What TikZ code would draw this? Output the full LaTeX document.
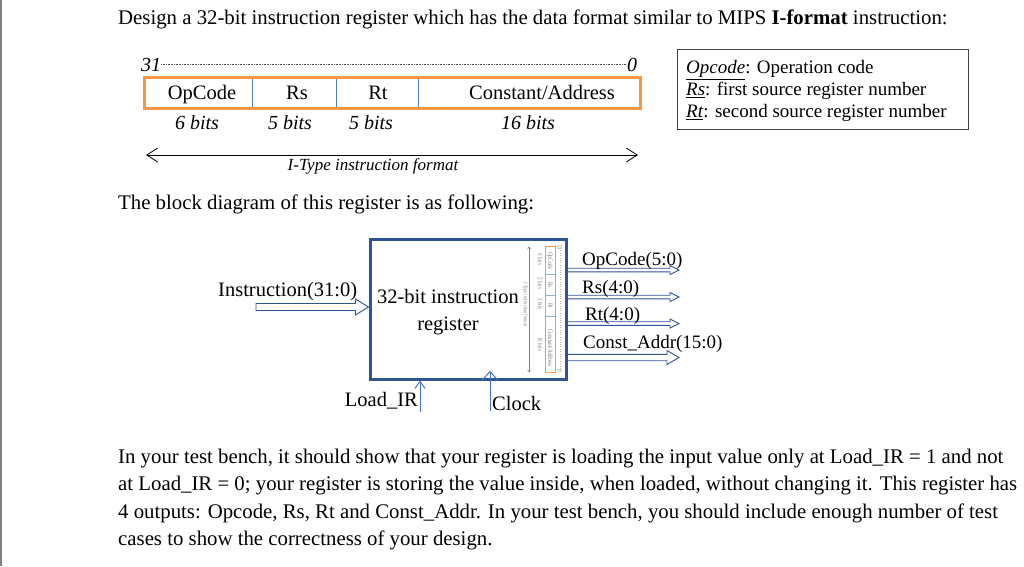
\documentclass[tikz,border=0pt]{standalone}
\usepackage{fontspec}
\setmainfont{Liberation Serif}
\usepackage{tikz}
\usetikzlibrary{arrows.meta,positioning,calc}

\definecolor{fmtorange}{HTML}{F79646}
\definecolor{fmtblue}{HTML}{4F81BD}
\definecolor{regblue}{HTML}{2F5496}
\definecolor{sigblue}{HTML}{4472C4}
\definecolor{keygray}{HTML}{404040}

% hollow bus arrow: from, to, half shaft, half head, head length
\newcommand{\busarrow}[5]{%
  \draw[bus] let \p1=(#1), \p2=(#2) in
    (\x1,\y1-#3pt) -- (\x2-#5pt,\y1-#3pt) -- (\x2-#5pt,\y1-#4pt) -- (\x2,\y1)
    -- (\x2-#5pt,\y1+#4pt) -- (\x2-#5pt,\y1+#3pt) -- (\x1,\y1+#3pt) -- cycle;}

\tikzset{
  fmtrect/.style={draw=fmtorange, line width=3pt},
  fmtdiv/.style={draw=fmtblue, line width=1pt},
  fmtdots/.style={draw=black!70, line width=0.7pt, dash pattern=on 0.7pt off 0.9pt},
  fmtarrow/.style={draw=black, line width=0.8pt,
    {Straight Barb[length=11pt,width=14pt]}-{Straight Barb[length=11pt,width=14pt]}},
  fmtfield/.style={font=\fontsize{20.5}{24}\selectfont, anchor=base},
  fmtbits/.style={font=\fontsize{20}{24}\selectfont\itshape, anchor=base},
  fmtnote/.style={font=\fontsize{17}{20}\selectfont\itshape, anchor=base},
  pics/iformat/.style={code={
    \node[fmtbits] (-hi) at (7,7) {31};
    \node[fmtbits] (-lo) at (488,7) {0};
    \draw[fmtdots] (-hi.east |- 0,0) -- (-lo.west |- 0,0);
    \foreach \d in {108.5,192,274.6}
      \draw[fmtdiv] (\d,13) -- (\d,44);
    \draw[fmtrect] (0,13) rectangle (496,44);
    \node[fmtfield] (-op) at (58,35.3) {OpCode};
    \node[fmtfield] (-rs) at (153,35.3) {Rs};
    \node[fmtfield] (-rt) at (234,35.3) {Rt};
    \node[fmtfield] (-ca) at (398,35.3) {Constant/Address};
    \node[fmtbits] (-opw) at (53,65) {6 bits};
    \node[fmtbits] (-rsw) at (146,65) {5 bits};
    \node[fmtbits] (-rtw) at (227,65) {5 bits};
    \node[fmtbits] (-caw) at (384,65) {16 bits};
    \coordinate (-l) at (2,91);
    \coordinate (-r) at (494,91);
    \draw[fmtarrow] (-l) -- (-r);
    \node[fmtnote] (-cap) at (229,106) {I-Type instruction format};
  }}
}

\begin{document}
\begin{tikzpicture}[x=1pt, y=-1pt,
    every node/.style={inner sep=0pt},
    body/.style={font=\fontsize{20.8}{27.5}\selectfont, anchor=base west, align=left},
    lbl/.style={font=\fontsize{20.5}{27}\selectfont},
    outlbl/.style={font=\fontsize{19}{22}\selectfont, anchor=base west},
    keytxt/.style={font=\fontsize{19}{21.8}\selectfont, align=left, anchor=west},
    reg/.style={draw=regblue, line width=3pt, minimum width=196, minimum height=140},
    bus/.style={draw=regblue, line width=0.9pt, fill=white},
    sig/.style={draw=sigblue, line width=1pt},
]
\useasboundingbox (0,0) rectangle (1024,566);
\fill[gray] (0,0) rectangle (2,566);

% text above and below
\node[body] (title) at (118,24)
  {Design a 32-bit instruction register which has the data format similar to MIPS \textbf{I-format} instruction:};
\node[body] (intro) at (118,209) {The block diagram of this register is as following:};
\node[body] (bench) at (118,545.5)
  {In your test bench, it should show that your register is loading the input value only at Load\_IR = 1 and not\\
   at Load\_IR = 0; your register is storing the value inside, when loaded, without changing it. This register has\\
   4 outputs: Opcode, Rs, Rt and Const\_Addr. In your test bench, you should include enough number of test\\
   cases to show the correctness of your design.};

% instruction format
\pic (fmt) at (144,64) {iformat};

\node[draw=keygray, line width=1.3pt, anchor=north west, minimum width=291,
      minimum height=80] (key) at (677,49) {};
\node[keytxt] (keylist) at ([xshift=9pt, yshift=-1.5pt]key.west)
  {\underline{\textit{Opcode}}: Operation code\\
   \underline{\textit{Rs}}: first source register number\\
   \underline{\textit{Rt}}: second source register number};

% register block
\node[reg] (reg) at (468,309) {};
\node[lbl, align=center] (regtxt) at (448,312) {32-bit instruction\\register};
\pic[rotate=-90, xscale=0.256, yscale=0.34, transform shape,
     fmtrect/.style={draw=fmtorange, line width=1pt},
     fmtdiv/.style={draw=fmtblue!60, line width=0.4pt},
     fmtdots/.style={draw=gray!60, line width=0.4pt, dotted},
     fmtarrow/.style={draw=gray, line width=0.5pt,
       {Straight Barb[length=2pt,width=3pt]}-{Straight Barb[length=2pt,width=3pt]}},
     every node/.append style={text=gray}] (mini) at (560,246) {iformat};

% input
\coordinate (instart) at (256,307);
\busarrow{instart}{instart -| reg.west}{3.5}{8}{13}
\node[lbl, anchor=base west] (inlbl) at (218,296) {Instruction(31:0)};

% outputs
\coordinate (opend) at (679,270);
\coordinate (rsend) at (679,297);
\coordinate (rtend) at (679,323.5);
\coordinate (caend) at (679,357.5);
\busarrow{reg.east |- opend}{opend}{1.8}{4.5}{9}
\busarrow{reg.east |- rsend}{rsend}{1.8}{4.5}{9}
\busarrow{reg.east |- rtend}{rtend}{1.8}{4.5}{9}
\busarrow{reg.east |- caend}{caend}{3.2}{7}{12}
\node[outlbl] (oplbl) at (582,265) {OpCode(5:0)};
\node[outlbl] (rslbl) at (582,293) {Rs(4:0)};
\node[outlbl] (rtlbl) at (585,320) {Rt(4:0)};
\node[outlbl] (calbl) at (583,348) {Const\_Addr(15:0)};

% control inputs
\coordinate (ldbot) at (420,412);
\draw[sig, -{Straight Barb[length=7pt,width=10pt]}] (ldbot) -- (ldbot |- reg.south);
\node[lbl, anchor=base east] (ldlbl) at (418,406) {Load\_IR};
\coordinate (clkbot) at (490,411);
\coordinate (clktop) at ($(clkbot |- reg.south)+(0,-9)$);
\draw[sig] (clkbot) -- (clktop);
\draw[sig] ($(clkbot |- reg.south)+(-8,0)$) -- (clktop) -- ($(clkbot |- reg.south)+(8,0)$);
\node[lbl, anchor=base west] (clklbl) at (492,410) {Clock};
\end{tikzpicture}
\end{document}
